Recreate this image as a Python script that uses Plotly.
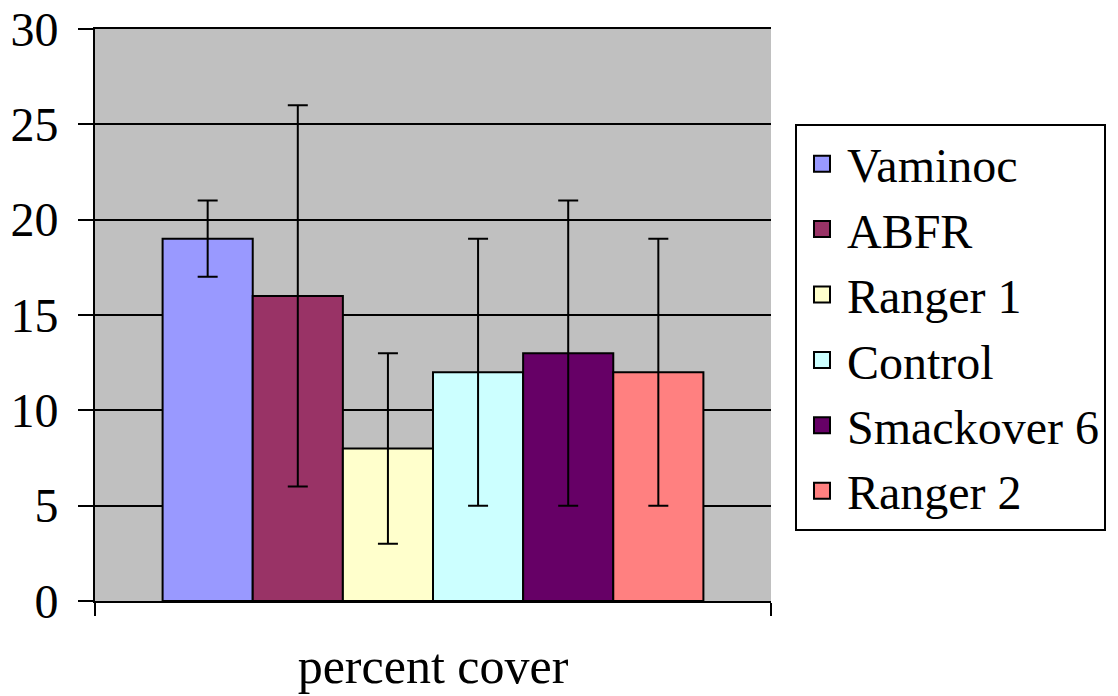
import plotly.graph_objects as go

categories = ["percent cover"]
series_names = ["Vaminoc", "ABFR", "Ranger 1", "Control", "Smackover 6", "Ranger 2"]
series_values = [19, 16, 8, 12, 13, 12]
series_errors = [2, 10, 5, 7, 8, 7]
series_colors = ["#9999FF", "#993366", "#FFFFCC", "#CCFFFF", "#660066", "#FF8080"]
y_ticks = [0, 5, 10, 15, 20, 25, 30]

FONT = "Liberation Serif, Times New Roman, serif"

fig = go.Figure()
for name, val, err, col in zip(series_names, series_values, series_errors, series_colors):
    fig.add_trace(go.Bar(
        name=name, x=categories, y=[val], legendgroup=name, showlegend=False,
        marker=dict(color=col, line=dict(color="black", width=2)),
        error_y=dict(type="data", array=[err], visible=True,
                     color="black", thickness=2, width=10),
    ))
# legend entries (larger square swatches), linked to the bars by legendgroup
for name, col in zip(series_names, series_colors):
    fig.add_trace(go.Scatter(
        name=name, x=categories, y=[None], mode="markers", legendgroup=name,
        marker=dict(symbol="square", size=16, color=col,
                    line=dict(color="black", width=2)),
        hoverinfo="skip",
    ))

# the page body adds an 8px offset; margins compensate for it
fig.update_layout(
    width=1118, height=696,
    margin=dict(l=87, r=355, t=21, b=103, autoexpand=False),
    paper_bgcolor="white", plot_bgcolor="#C0C0C0",
    barmode="group", bargap=0.2, bargroupgap=0,
    font=dict(family=FONT, size=48, color="black"),
    legend=dict(x=1.0355, xanchor="left", y=0.8339, yanchor="top",
                bordercolor="black", borderwidth=2, bgcolor="white",
                font=dict(family=FONT, size=48, color="black"),
                tracegroupgap=0, itemwidth=40),
    showlegend=True,
)
# mirrored x-axis line supplies the top gridline at 30
fig.update_xaxes(showline=True, mirror=True, linecolor="black", linewidth=2,
                 ticks="outside", tickson="boundaries", ticklen=13, tickwidth=2,
                 tickcolor="black", showgrid=False, ticklabelstandoff=20,
                 ticklabeloverflow="allow",
                 tickfont=dict(family=FONT, size=50, color="black"))
fig.update_yaxes(range=[0, 30], tickvals=y_ticks, showline=True, linecolor="black",
                 linewidth=2, ticks="outside", ticklen=15, tickwidth=2, tickcolor="black",
                 showgrid=True, gridcolor="black", gridwidth=2, zeroline=False,
                 ticklabelstandoff=10, ticklabeloverflow="allow")

fig.write_html("out.html")
